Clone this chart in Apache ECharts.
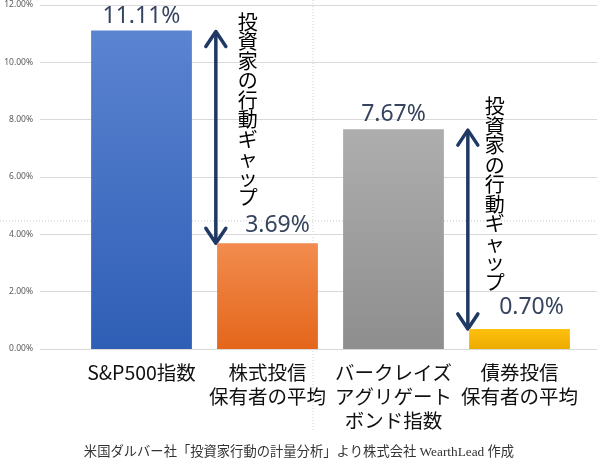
<!DOCTYPE html>
<html><head><meta charset="utf-8">
<script src="https://cdn.jsdelivr.net/npm/echarts@6/dist/echarts.min.js"></script>
<style>html,body{margin:0;padding:0;background:#fff}#c{width:597px;height:473px}</style>
</head><body><div id="c"></div>
<script>
const categories = ['S&P500指数', '株式投信\n保有者の平均', 'バークレイズ\nアグリゲート\nボンド指数', '債券投信\n保有者の平均'];
const values = [11.11, 3.69, 7.67, 0.70];
const yMin = 0, yMax = 12, yStep = 2;
const gapPairs = [[0, 1], [2, 3]];
const gapText = '投資家の行動ギャップ';
const caption = '米国ダルバー社「投資家行動の計量分析」より株式会社 WearthLead 作成';

const barColors = [['#5B84D1', '#2F5EB6'], ['#F28C4E', '#E4661B'], ['#AEAEAE', '#8E8E8E'], ['#FFC20E', '#EDAA00']];
const labelShift = [[0, 0], [10, -3], [0, 0], [12, -7]];
const textShift = [[32, -19], [27, -33]];

const chart = echarts.init(document.getElementById('c'), null, {renderer: 'canvas'});
const jp = '"Noto Sans CJK JP", "Noto Sans", sans-serif';

chart.setOption({
  animation: false,
  backgroundColor: '#fff',
  grid: [
    {left: 40, right: 0, top: 5, height: 344},
    {left: 78.5, width: 504, top: 5, height: 344}
  ],
  xAxis: [
    {gridIndex: 0, type: 'value', min: 0, max: 1, show: false},
    {gridIndex: 1, type: 'category', data: categories,
     axisLine: {show: false}, axisTick: {show: false},
     axisLabel: {fontSize: 19.5, lineHeight: 24, color: '#111', fontFamily: jp, margin: 12, interval: 0}}
  ],
  yAxis: [
    {gridIndex: 0, type: 'value', min: yMin, max: yMax, interval: yStep,
     axisLine: {show: false}, axisTick: {show: false},
     axisLabel: {fontSize: 8.5, color: '#595959', margin: 7, fontFamily: '"Noto Sans", sans-serif',
       formatter: v => v.toFixed(2) + '%'},
     splitLine: {lineStyle: {color: '#D9D9D9', width: 1}}},
    {gridIndex: 1, type: 'value', min: yMin, max: yMax, interval: yStep, show: false, splitLine: {show: false}}
  ],
  series: [{
    type: 'bar', xAxisIndex: 1, yAxisIndex: 1, barCategoryGap: '20%',
    data: values.map((v, i) => ({
      value: v,
      itemStyle: {color: new echarts.graphic.LinearGradient(0, 0, 0, 1, [
        {offset: 0, color: barColors[i][0]}, {offset: 1, color: barColors[i][1]}])},
      label: {offset: labelShift[i]}
    })),
    label: {show: true, position: 'top', distance: 3, fontSize: 23, color: '#36445E',
      fontFamily: '"Noto Sans", sans-serif', formatter: p => p.value.toFixed(2) + '%'}
  }]
});

const px = (i, v) => chart.convertToPixel({gridIndex: 1}, [i, v]);
const band = px(1, 0)[0] - px(0, 0)[0];
const graphics = [];
const arrowColor = '#1F3864';
gapPairs.forEach(([a, b], k) => {
  const x = px(b, 0)[0] - band * 0.41;
  const yTop = px(a, values[a])[1] + 1;
  const yBot = px(b, values[b])[1];
  const hw = 10, hh = 15;
  graphics.push({type: 'line', shape: {x1: x, y1: yTop + 1, x2: x, y2: yBot - 1},
    style: {stroke: arrowColor, lineWidth: 3.5}});
  graphics.push({type: 'polyline', shape: {points: [[x - hw, yTop + hh], [x, yTop], [x + hw, yTop + hh]]},
    style: {stroke: arrowColor, lineWidth: 3.5, lineCap: 'round', lineJoin: 'round', fill: null}});
  graphics.push({type: 'polyline', shape: {points: [[x - hw, yBot - hh], [x, yBot], [x + hw, yBot - hh]]},
    style: {stroke: arrowColor, lineWidth: 3.5, lineCap: 'round', lineJoin: 'round', fill: null}});
  graphics.push({type: 'text', x: x + textShift[k][0], y: yTop + textShift[k][1],
    style: {text: gapText.split('').join('\n'), font: '20px ' + jp, lineHeight: 19.5,
      fill: '#000', align: 'center', verticalAlign: 'top'}});
});
// faint dotted guide lines seen in the picture
graphics.push({type: 'line', shape: {x1: 0, y1: 221, x2: 597, y2: 221},
  style: {stroke: '#C8C8C8', lineWidth: 1, lineDash: [1, 2]}, z: -1});
graphics.push({type: 'line', shape: {x1: 313, y1: 0, x2: 313, y2: 432},
  style: {stroke: '#D0D0D0', lineWidth: 1, lineDash: [1, 2]}, z: -1});
graphics.push({type: 'text', x: 299, y: 453,
  style: {text: caption, font: '13.3px "Liberation Serif", "Noto Sans CJK JP", serif', fill: '#333',
    align: 'center', verticalAlign: 'middle'}});
chart.setOption({graphic: graphics});
</script></body></html>
